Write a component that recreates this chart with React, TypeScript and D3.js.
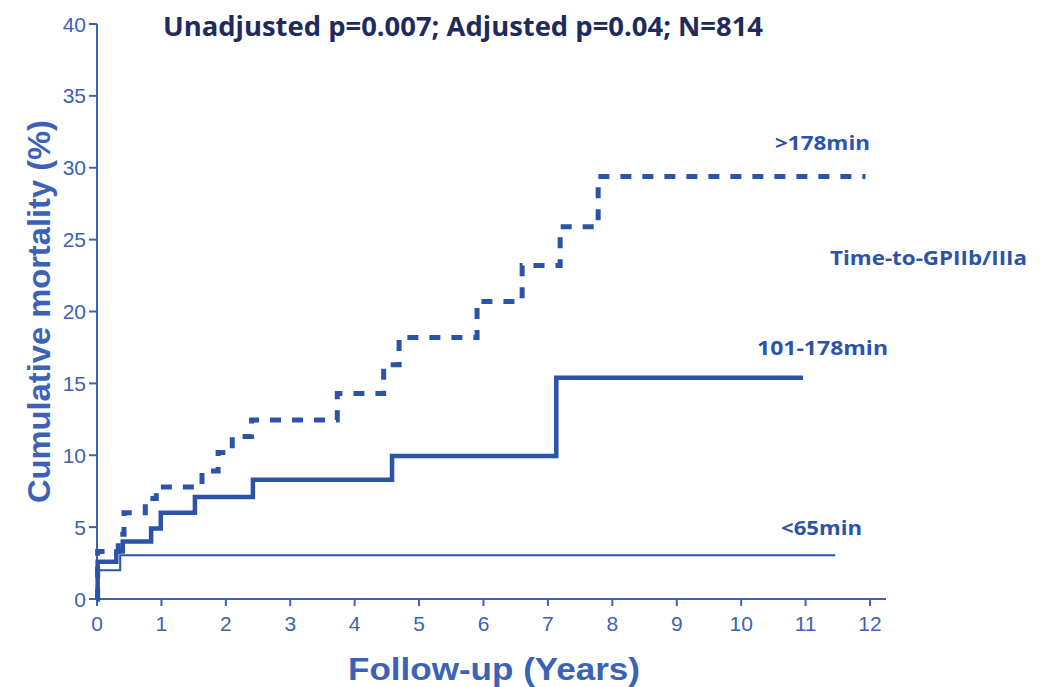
import React from "react";
import * as d3 from "d3";

const W = 1053;
const H = 687;

const titleText = "Unadjusted p=0.007; Adjusted p=0.04; N=814";
const xTicks = [0, 1, 2, 3, 4, 5, 6, 7, 8, 9, 10, 11, 12];
const yTicks = [0, 5, 10, 15, 20, 25, 30, 35, 40];

// step curves: [time (years), cumulative mortality (%)]
const lowGroup: [number, number][] = [
  [0, 0], [0.01, 2.0], [0.36, 3.05], [11.46, 3.05],
];
const midGroup: [number, number][] = [
  [0, 0], [0.01, 2.6], [0.3, 3.3], [0.4, 4.0], [0.84, 4.9], [0.99, 6.0],
  [1.52, 7.1], [2.42, 8.3], [4.58, 9.95], [7.13, 15.4], [10.96, 15.4],
];
const highGroup: [number, number][] = [
  [0, 0], [0.01, 3.3], [0.33, 4.5], [0.42, 6.0], [0.75, 7.0], [0.92, 7.8],
  [1.63, 8.9], [1.88, 10.2], [2.1, 11.3], [2.4, 12.45], [3.73, 14.3],
  [4.45, 16.3], [4.69, 18.2], [5.9, 20.7], [6.6, 23.2], [7.19, 25.9],
  [7.78, 29.4], [11.93, 29.4],
];

const BLUE = "#2b54a8";
const AXIS = "#3c62b8";

export default function App() {
  const x = d3.scaleLinear().domain([0, 12]).range([97, 870]);
  const y = d3.scaleLinear().domain([0, 40]).range([599, 24]);
  const line = d3
    .line<[number, number]>()
    .x((d) => x(d[0]))
    .y((d) => y(d[1]))
    .curve(d3.curveStepAfter);

  return (
    <svg width={W} height={H} style={{ position: "absolute", left: 0, top: 0, background: "#fff" }}>
      {/* axes */}
      <line x1={97} x2={97} y1={y(40)} y2={y(0)} stroke={AXIS} strokeWidth={2} />
      <line x1={97} x2={886} y1={y(0)} y2={y(0)} stroke={AXIS} strokeWidth={2} />
      {yTicks.map((t) => (
        <g key={"y" + t}>
          <line x1={89} x2={97} y1={y(t)} y2={y(t)} stroke={AXIS} strokeWidth={2} />
          <text
            x={86}
            y={y(t)}
            dy="0.36em"
            textAnchor="end"
            fontFamily="Liberation Sans, Arial, sans-serif"
            fontSize={21}
            fill={AXIS}
          >
            {t}
          </text>
        </g>
      ))}
      {xTicks.map((t) => (
        <g key={"x" + t}>
          <line x1={x(t)} x2={x(t)} y1={y(0)} y2={y(0) + 7} stroke={AXIS} strokeWidth={2} />
          <text
            x={x(t)}
            y={631}
            textAnchor="middle"
            fontFamily="Liberation Sans, Arial, sans-serif"
            fontSize={21}
            fill={AXIS}
          >
            {t}
          </text>
        </g>
      ))}
      {/* axis titles */}
      <text
        transform={`translate(50,503) rotate(-90)`}
        textLength={383}
        lengthAdjust="spacingAndGlyphs"
        fontFamily="Liberation Sans, Arial, sans-serif"
        fontWeight="bold"
        fontSize={32}
        fill={AXIS}
      >
        Cumulative mortality (%)
      </text>
      <text
        x={348}
        y={680}
        textLength={292}
        lengthAdjust="spacingAndGlyphs"
        fontFamily="Liberation Sans, Arial, sans-serif"
        fontWeight="bold"
        fontSize={32}
        fill={AXIS}
      >
        Follow-up (Years)
      </text>

      {/* curves */}
      <path d={line(lowGroup) || ""} fill="none" stroke={BLUE} strokeWidth={2} />
      <path d={line(midGroup) || ""} fill="none" stroke={BLUE} strokeWidth={4.5} />
      <path
        d={line(highGroup) || ""}
        fill="none"
        stroke={BLUE}
        strokeWidth={5}
        strokeDasharray="11 11"
      />

      {/* title */}
      <text
        x={163}
        y={36}
        textLength={600}
        lengthAdjust="spacingAndGlyphs"
        fontFamily="Open Sans, Liberation Sans, sans-serif"
        fontWeight="bold"
        fontSize={26}
        fill="#202a5c"
      >
        {titleText}
      </text>

      {/* labels */}
      <g fontFamily="Open Sans, Liberation Sans, sans-serif" fontWeight="bold" fontSize={20} fill={BLUE}>
        <text x={775} y={150} textLength={95} lengthAdjust="spacingAndGlyphs">&gt;178min</text>
        <text x={830} y={265} textLength={197} lengthAdjust="spacingAndGlyphs">Time-to-GPIIb/IIIa</text>
        <text x={757} y={355} textLength={131} lengthAdjust="spacingAndGlyphs">101-178min</text>
        <text x={781} y={535} textLength={81} lengthAdjust="spacingAndGlyphs">&lt;65min</text>
      </g>
    </svg>
  );
}
